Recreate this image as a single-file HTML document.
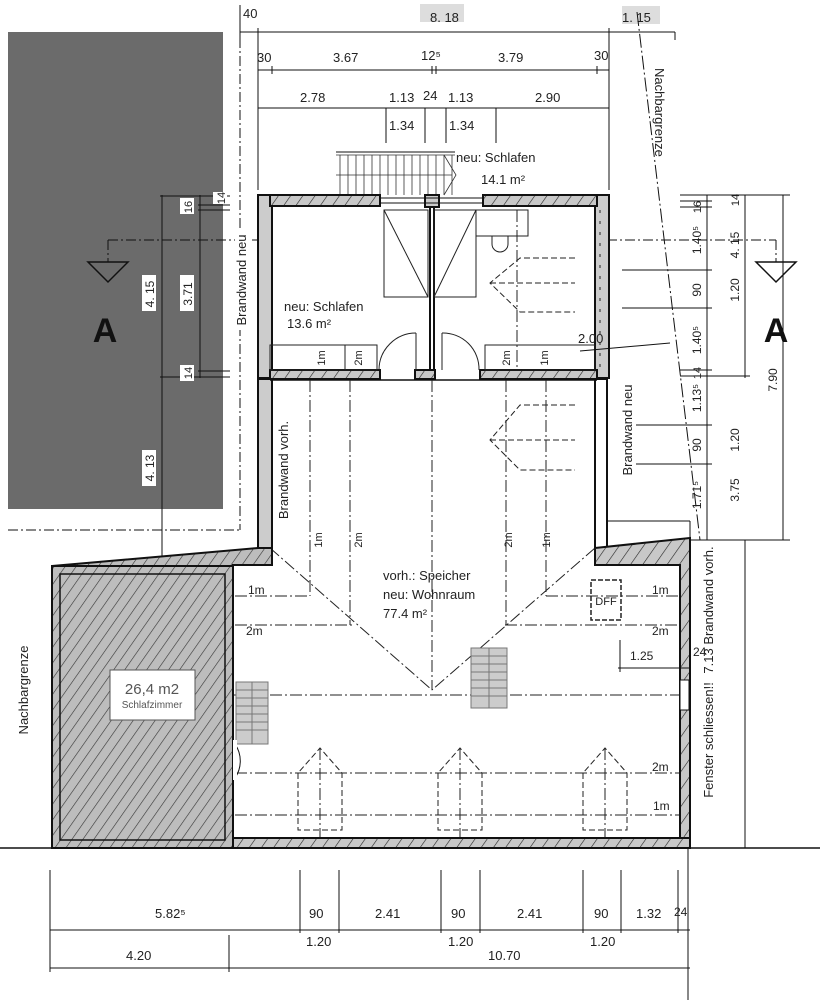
<!DOCTYPE html>
<html><head><meta charset="utf-8"><style>
html,body{margin:0;padding:0;background:#fff;}
svg{display:block;}
text{font-family:"Liberation Sans",sans-serif;fill:#222;}
</style></head><body>
<svg width="820" height="1000" viewBox="0 0 820 1000" xmlns="http://www.w3.org/2000/svg">
<defs>
<pattern id="h" width="9" height="9" patternUnits="userSpaceOnUse" patternTransform="rotate(35)">
<rect width="9" height="9" fill="#bdbdbd"/><line x1="0" y1="0" x2="0" y2="9" stroke="#333" stroke-width="1.2"/>
</pattern>
<pattern id="hw" width="10" height="10" patternUnits="userSpaceOnUse" patternTransform="rotate(35)">
<rect width="10" height="10" fill="#c8c8c8"/><line x1="0" y1="0" x2="0" y2="10" stroke="#222" stroke-width="1.2"/>
</pattern>
</defs>

<rect x="8" y="32" width="215" height="477" fill="#6b6b6b"/>
<text x="105" y="342" font-size="34" font-weight="bold" text-anchor="middle" style="fill:#111">A</text>
<polygon points="88,262 128,262 108,282" fill="none" stroke="#111" stroke-width="1.5"/>
<g stroke="#111" stroke-width="1" fill="none" stroke-dasharray="10,3,2,3">
<line x1="108" y1="240" x2="258" y2="240"/><line x1="108" y1="240" x2="108" y2="262"/>
<line x1="607" y1="240" x2="776" y2="240"/><line x1="776" y1="240" x2="776" y2="262"/>
<line x1="240" y1="20" x2="240" y2="530"/><line x1="8" y1="530" x2="240" y2="530"/>
</g>
<polygon points="756,262 796,262 776,282" fill="none" stroke="#111" stroke-width="1.5"/>
<text x="776" y="342" font-size="34" font-weight="bold" text-anchor="middle" style="fill:#111">A</text>

<g stroke="#111" stroke-width="1">
<line x1="162" y1="195" x2="162" y2="558"/><line x1="200" y1="195" x2="200" y2="378"/>
<line x1="160" y1="196" x2="230" y2="196"/><line x1="198" y1="205" x2="230" y2="205"/><line x1="198" y1="210" x2="230" y2="210"/>
<line x1="198" y1="371" x2="230" y2="371"/><line x1="160" y1="377" x2="230" y2="377"/>
</g>
<g font-size="12">
<rect x="142" y="275" width="14" height="36" fill="#fff"/><text transform="translate(154,294) rotate(-90)" text-anchor="middle">4. 15</text>
<rect x="180" y="275" width="14" height="36" fill="#fff"/><text transform="translate(192,294) rotate(-90)" text-anchor="middle">3.71</text>
<rect x="180" y="198" width="14" height="16" fill="#fff"/><text transform="translate(192,207) rotate(-90)" text-anchor="middle" font-size="11">16</text>
<rect x="213" y="192" width="14" height="12" fill="#fff"/><text transform="translate(225,198) rotate(-90)" text-anchor="middle" font-size="11">14</text>
<rect x="180" y="365" width="14" height="16" fill="#fff"/><text transform="translate(192,373) rotate(-90)" text-anchor="middle" font-size="11">14</text>
<rect x="142" y="450" width="14" height="36" fill="#fff"/><text transform="translate(154,468) rotate(-90)" text-anchor="middle">4. 13</text>
</g>

<g stroke="#111" stroke-width="1">
<line x1="240" y1="32" x2="675" y2="32"/><line x1="240" y1="5" x2="240" y2="40"/>
<line x1="258" y1="70" x2="609" y2="70"/>
<line x1="258" y1="108" x2="609" y2="108"/>
<line x1="258" y1="28" x2="258" y2="190"/><line x1="609" y1="28" x2="609" y2="190"/>
<line x1="272" y1="66" x2="272" y2="74"/><line x1="597" y1="66" x2="597" y2="74"/>
<line x1="432" y1="66" x2="432" y2="74"/><line x1="436" y1="66" x2="436" y2="74"/>
<line x1="386" y1="108" x2="386" y2="143"/><line x1="496" y1="108" x2="496" y2="143"/>
<line x1="425" y1="108" x2="425" y2="143"/><line x1="446" y1="108" x2="446" y2="143"/>
<line x1="675" y1="32" x2="675" y2="40"/>
</g>
<rect x="420" y="4" width="44" height="18" fill="#ddd"/>
<rect x="622" y="6" width="38" height="18" fill="#ddd"/>
<g font-size="13">
<text x="243" y="18">40</text><text x="430" y="22">8. 18</text><text x="622" y="22">1. 15</text>
<text x="257" y="62">30</text><text x="333" y="62">3.67</text><text x="421" y="60">12⁵</text><text x="498" y="62">3.79</text><text x="594" y="60">30</text>
<text x="300" y="102">2.78</text><text x="389" y="102">1.13</text><text x="423" y="100">24</text><text x="448" y="102">1.13</text><text x="535" y="102">2.90</text>
<text x="389" y="130">1.34</text><text x="449" y="130">1.34</text>
</g>
<line x1="637" y1="12" x2="700" y2="540" stroke="#111" stroke-width="1" stroke-dasharray="14,3,2,3"/>
<text transform="translate(655,68) rotate(90)" font-size="13">Nachbargrenze</text>

<g stroke="#333" stroke-width="0.8" fill="none">
<line x1="336" y1="152" x2="455" y2="152" stroke-width="2" stroke="#888"/>
<line x1="336" y1="155" x2="455" y2="155"/>
<line x1="340" y1="155" x2="340" y2="195"/><line x1="348" y1="155" x2="348" y2="195"/><line x1="356" y1="155" x2="356" y2="195"/><line x1="364" y1="155" x2="364" y2="195"/><line x1="372" y1="155" x2="372" y2="195"/><line x1="380" y1="155" x2="380" y2="195"/><line x1="388" y1="155" x2="388" y2="195"/><line x1="396" y1="155" x2="396" y2="195"/><line x1="404" y1="155" x2="404" y2="195"/><line x1="412" y1="155" x2="412" y2="195"/><line x1="420" y1="155" x2="420" y2="195"/><line x1="428" y1="155" x2="428" y2="195"/><line x1="436" y1="155" x2="436" y2="195"/><line x1="444" y1="155" x2="444" y2="195"/><line x1="452" y1="155" x2="452" y2="195"/>
<line x1="336" y1="175" x2="452" y2="175"/><polyline points="444,155 456,175 444,195"/>
</g>
<text x="456" y="162" font-size="13">neu:  Schlafen</text>
<text x="481" y="184" font-size="13">14.1  m²</text>

<g stroke="#111" stroke-width="2" fill="#ccc">
<rect x="258" y="195" width="14" height="183"/>
<rect x="595" y="195" width="14" height="183"/>
<rect x="270" y="195" width="110" height="11" fill="url(#hw)"/>
<rect x="483" y="195" width="114" height="11" fill="url(#hw)"/>
<rect x="425" y="195" width="14" height="12"/>
<rect x="270" y="370" width="110" height="9" fill="url(#hw)"/>
<rect x="415" y="370" width="20" height="9" fill="url(#hw)"/>
<rect x="480" y="370" width="117" height="9" fill="url(#hw)"/>
</g>
<line x1="380" y1="198" x2="483" y2="198" stroke="#111"/><line x1="380" y1="203" x2="483" y2="203" stroke="#111"/>
<line x1="430" y1="207" x2="430" y2="370" stroke="#111" stroke-width="2"/><line x1="434" y1="207" x2="434" y2="370" stroke="#111" stroke-width="2"/>
<g stroke="#222" fill="none" stroke-width="1">
<rect x="384" y="210" width="44" height="87"/><rect x="434" y="210" width="42" height="87"/>
<polyline points="384,210 428,297"/><polyline points="476,210 434,297"/>
<path d="M416,333 A37,37 0 0,0 379,370"/><line x1="416" y1="333" x2="416" y2="370"/>
<path d="M442,333 A36,36 0 0,1 479,370"/><line x1="442" y1="333" x2="442" y2="370"/>
<rect x="476" y="210" width="52" height="26"/>
<path d="M492,236 v8 a8,8 0 0,0 16,0 v-8"/>
<rect x="270" y="345" width="75" height="25"/><rect x="345" y="345" width="32" height="25"/>
<rect x="485" y="345" width="110" height="25"/>
</g>
<g font-size="13">
<text x="284" y="311">neu:  Schlafen</text><text x="287" y="328">13.6  m²</text>
<text x="578" y="343">2.00</text>
</g>
<g font-size="11">
<text transform="translate(325,358) rotate(-90)" text-anchor="middle">1m</text>
<text transform="translate(362,358) rotate(-90)" text-anchor="middle">2m</text>
<text transform="translate(510,358) rotate(-90)" text-anchor="middle">2m</text>
<text transform="translate(548,358) rotate(-90)" text-anchor="middle">1m</text>
</g>
<line x1="580" y1="351" x2="670" y2="343" stroke="#111"/>

<g stroke="#111" stroke-width="2">
<rect x="258" y="379" width="14" height="170" fill="#ccc"/>
<rect x="595" y="379" width="12" height="170" fill="#fff"/>
</g>
<line x1="270" y1="380" x2="597" y2="380" stroke="#111" stroke-width="1.5"/>

<g stroke="#222" stroke-width="1" fill="none" stroke-dasharray="12,3,2,3">
<line x1="310" y1="380" x2="310" y2="596"/><line x1="350" y1="380" x2="350" y2="625"/>
<line x1="506" y1="380" x2="506" y2="625"/><line x1="546" y1="380" x2="546" y2="596"/>
<line x1="432" y1="380" x2="432" y2="690"/>
<line x1="270" y1="548" x2="432" y2="690"/><line x1="595" y1="548" x2="432" y2="690"/>
<line x1="235" y1="596" x2="310" y2="596"/><line x1="546" y1="596" x2="685" y2="596"/>
<line x1="235" y1="625" x2="355" y2="625"/><line x1="505" y1="625" x2="685" y2="625"/>
<line x1="210" y1="695" x2="685" y2="695"/>
<line x1="235" y1="773" x2="685" y2="773"/><line x1="235" y1="815" x2="685" y2="815"/>
<line x1="320" y1="748" x2="320" y2="838"/><line x1="460" y1="748" x2="460" y2="838"/><line x1="605" y1="748" x2="605" y2="838"/>
<line x1="517" y1="210" x2="517" y2="370"/><line x1="600" y1="210" x2="600" y2="370" stroke-dasharray="3,8"/>
</g>
<g stroke="#222" stroke-width="1" fill="none" stroke-dasharray="6,3">
<polyline points="298,773 298,830 342,830 342,773 320,748 298,773"/>
<polyline points="438,773 438,830 482,830 482,773 460,748 438,773"/>
<polyline points="583,773 583,830 627,830 627,773 605,748 583,773"/>
<polyline points="575,258 520,258 490,283 520,312 575,312"/><line x1="490" y1="283" x2="575" y2="283"/>
<polyline points="575,405 520,405 490,440 520,470 575,470"/><line x1="490" y1="440" x2="575" y2="440"/>
</g>
<g font-size="11">
<text transform="translate(322,540) rotate(-90)" text-anchor="middle">1m</text>
<text transform="translate(362,540) rotate(-90)" text-anchor="middle">2m</text>
<text transform="translate(512,540) rotate(-90)" text-anchor="middle">2m</text>
<text transform="translate(550,540) rotate(-90)" text-anchor="middle">1m</text>
</g>
<text transform="translate(288,470) rotate(-90)" text-anchor="middle" font-size="13">Brandwand vorh.</text>
<rect x="235" y="230" width="14" height="100" fill="#fff"/>
<text transform="translate(246,280) rotate(-90)" text-anchor="middle" font-size="13">Brandwand neu</text>
<text transform="translate(632,430) rotate(-90)" text-anchor="middle" font-size="13">Brandwand neu</text>

<polygon points="52,566 258,548 272,548 272,565 233,565 233,838 52,848" fill="url(#h)" stroke="#111" stroke-width="2"/>
<rect x="52" y="566" width="181" height="282" fill="url(#h)" stroke="#111" stroke-width="2"/>
<rect x="60" y="574" width="165" height="266" fill="none" stroke="#111" stroke-width="1.5"/>
<polygon points="595,548 690,538 690,848 680,848 680,565 595,565" fill="url(#hw)" stroke="#111" stroke-width="2"/>
<rect x="233" y="838" width="457" height="10" fill="url(#hw)" stroke="#111" stroke-width="2"/>
<line x1="235" y1="565" x2="272" y2="565" stroke="#111" stroke-width="2"/>
<line x1="0" y1="848" x2="820" y2="848" stroke="#111" stroke-width="1.5"/>
<rect x="680" y="680" width="9" height="30" fill="#fff" stroke="#111"/>
<rect x="110" y="670" width="85" height="50" fill="#fff" stroke="#555"/>
<text x="152" y="694" font-size="15" text-anchor="middle" style="fill:#555">26,4 m2</text>
<text x="152" y="708" font-size="10" text-anchor="middle" style="fill:#555">Schlafzimmer</text>
<g stroke="#777" fill="#ccc" stroke-width="1">
<rect x="236" y="682" width="32" height="62"/>
<rect x="471" y="648" width="36" height="60"/>
</g>
<g stroke="#777" stroke-width="1">
<line x1="236" y1="690" x2="268" y2="690"/><line x1="236" y1="698" x2="268" y2="698"/><line x1="236" y1="706" x2="268" y2="706"/><line x1="236" y1="714" x2="268" y2="714"/><line x1="236" y1="722" x2="268" y2="722"/><line x1="236" y1="730" x2="268" y2="730"/>
<line x1="471" y1="656" x2="507" y2="656"/><line x1="471" y1="664" x2="507" y2="664"/><line x1="471" y1="672" x2="507" y2="672"/><line x1="471" y1="680" x2="507" y2="680"/><line x1="471" y1="688" x2="507" y2="688"/><line x1="471" y1="696" x2="507" y2="696"/>
<line x1="489" y1="648" x2="489" y2="708"/><line x1="252" y1="682" x2="252" y2="744"/>
</g>
<path d="M235,744 A30,30 0 0,1 235,778" fill="none" stroke="#111"/>
<rect x="233" y="740" width="4" height="40" fill="#fff"/>
<rect x="591" y="580" width="30" height="40" fill="none" stroke="#222" stroke-dasharray="5,2" stroke-width="1.5"/>
<text x="606" y="605" font-size="11" text-anchor="middle">DFF</text>

<g font-size="13">
<text x="383" y="580">vorh.:  Speicher</text><text x="383" y="599">neu:  Wohnraum</text><text x="383" y="618">77.4  m²</text>
</g>
<g font-size="12">
<text x="248" y="594">1m</text><text x="246" y="635">2m</text>
<text x="652" y="594">1m</text><text x="652" y="635">2m</text>
<text x="652" y="771">2m</text><text x="653" y="810">1m</text>
<text x="630" y="660">1.25</text><text x="693" y="656">24</text>
</g>
<line x1="618" y1="668" x2="690" y2="668" stroke="#111"/><line x1="620" y1="640" x2="620" y2="672" stroke="#111"/>
<text transform="translate(28,690) rotate(-90)" text-anchor="middle" font-size="13">Nachbargrenze</text>
<text transform="translate(713,740) rotate(-90)" text-anchor="middle" font-size="13">Fenster  schliessen!!</text>
<text transform="translate(713,610) rotate(-90)" text-anchor="middle" font-size="13">7.13  Brandwand  vorh.</text>

<g stroke="#111" stroke-width="1">
<line x1="707" y1="195" x2="707" y2="540"/><line x1="745" y1="195" x2="745" y2="378"/><line x1="783" y1="195" x2="783" y2="540"/>
<line x1="680" y1="195" x2="790" y2="195"/><line x1="680" y1="201" x2="712" y2="201"/><line x1="680" y1="207" x2="712" y2="207"/>
<line x1="622" y1="270" x2="712" y2="270"/><line x1="622" y1="308" x2="712" y2="308"/>
<line x1="680" y1="370" x2="712" y2="370"/><line x1="680" y1="376" x2="750" y2="376"/>
<line x1="636" y1="425" x2="712" y2="425"/><line x1="636" y1="464" x2="712" y2="464"/>
<line x1="607" y1="521" x2="690" y2="521"/><line x1="690" y1="521" x2="690" y2="545"/>
<line x1="690" y1="540" x2="790" y2="540"/>
<line x1="745" y1="540" x2="745" y2="848"/><line x1="688" y1="848" x2="688" y2="1000"/>
</g>
<g font-size="12">
<text transform="translate(701,207) rotate(-90)" text-anchor="middle" font-size="11">16</text>
<text transform="translate(739,200) rotate(-90)" text-anchor="middle" font-size="11">14</text>
<text transform="translate(701,240) rotate(-90)" text-anchor="middle">1.40⁵</text>
<text transform="translate(739,245) rotate(-90)" text-anchor="middle">4. 15</text>
<text transform="translate(701,290) rotate(-90)" text-anchor="middle">90</text>
<text transform="translate(739,290) rotate(-90)" text-anchor="middle">1.20</text>
<text transform="translate(701,340) rotate(-90)" text-anchor="middle">1.40⁵</text>
<text transform="translate(701,373) rotate(-90)" text-anchor="middle" font-size="11">14</text>
<text transform="translate(701,398) rotate(-90)" text-anchor="middle">1.13⁵</text>
<text transform="translate(701,445) rotate(-90)" text-anchor="middle">90</text>
<text transform="translate(739,440) rotate(-90)" text-anchor="middle">1.20</text>
<text transform="translate(701,495) rotate(-90)" text-anchor="middle">1.71⁵</text>
<text transform="translate(739,490) rotate(-90)" text-anchor="middle">3.75</text>
<text transform="translate(777,380) rotate(-90)" text-anchor="middle">7.90</text>
</g>

<g stroke="#111" stroke-width="1">
<line x1="50" y1="930" x2="690" y2="930"/><line x1="50" y1="968" x2="690" y2="968"/>
<line x1="50" y1="870" x2="50" y2="972"/><line x1="229" y1="935" x2="229" y2="972"/>
<line x1="300" y1="870" x2="300" y2="933"/><line x1="339" y1="870" x2="339" y2="933"/>
<line x1="441" y1="870" x2="441" y2="933"/><line x1="480" y1="870" x2="480" y2="933"/>
<line x1="583" y1="870" x2="583" y2="933"/><line x1="621" y1="870" x2="621" y2="933"/>
<line x1="678" y1="870" x2="678" y2="933"/>
</g>
<g font-size="13">
<text x="155" y="918">5.82⁵</text><text x="309" y="918">90</text><text x="375" y="918">2.41</text>
<text x="451" y="918">90</text><text x="517" y="918">2.41</text><text x="594" y="918">90</text>
<text x="636" y="918">1.32</text><text x="674" y="916" font-size="12">24</text>
<text x="306" y="946">1.20</text><text x="448" y="946">1.20</text><text x="590" y="946">1.20</text>
<text x="126" y="960">4.20</text><text x="488" y="960">10.70</text>
</g>
</svg>
</body></html>
